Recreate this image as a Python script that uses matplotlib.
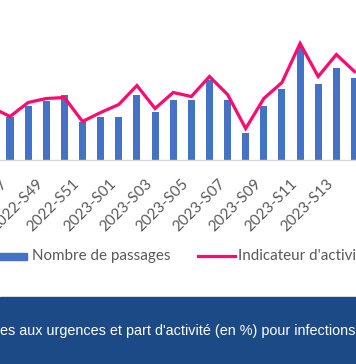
import matplotlib
matplotlib.use('Agg')
import matplotlib.pyplot as plt
from matplotlib.patches import Rectangle
from matplotlib.lines import Line2D
import numpy as np

plt.rcParams['font.family'] = ['Lato', 'DejaVu Sans']

# weeks (S46 falls just outside the visible area)
semaines = ['2022-S46', '2022-S47', '2022-S48', '2022-S49', '2022-S50', '2022-S51',
            '2022-S52', '2023-S01', '2023-S02', '2023-S03', '2023-S04', '2023-S05',
            '2023-S06', '2023-S07', '2023-S08', '2023-S09', '2023-S10', '2023-S11',
            '2023-S12', '2023-S13', '2023-S14']
passages = [500, 430, 535, 590, 650, 380, 430, 430, 650, 480, 600, 600,
            800, 600, 270, 540, 710, 1130, 755, 920, 815]
indicateur = [5.2, 4.3, 5.7, 6.1, 6.2, 3.8, 4.7, 5.5, 7.4, 5.1, 6.7, 6.3,
              8.3, 6.5, 3.1, 6.1, 7.7, 11.6, 8.3, 10.5, 8.8]

W, H = 356, 364
bleu = '#4472C4'
rose = '#FF0A6E'
gris = '#595959'

fig = plt.figure(figsize=(W / 100, H / 100), dpi=100)
base = 159.5
ax = fig.add_axes([0, (H - base) / H, 1, base / H])

x = np.arange(len(semaines)) - 1
step = 18.13
ax.bar(x, passages, width=0.39, color=bleu, zorder=2)
ax.set_xlim(-10 / step, (W - 10) / step)
ax.set_ylim(0, base * 10)

ax2 = ax.twinx()
ax2.plot(x, indicateur, color=rose, lw=2.3, solid_joinstyle='miter', zorder=3)
ax2.set_ylim(0, base / 10)

for a in (ax, ax2):
    for s in ['top', 'left', 'right']:
        a.spines[s].set_visible(False)
    a.set_yticks([])
    a.patch.set_visible(False)
ax2.spines['bottom'].set_visible(False)
ax.spines['bottom'].set_color('#d9d9d9')
ax.spines['bottom'].set_linewidth(1)

ticks = x[1::2]
ax.set_xticks(ticks)
ax.set_xticklabels(semaines[1::2], rotation=45, ha='right', color=gris, fontsize=11)
ax.tick_params(axis='x', length=0, pad=12)

# legend drawn by hand, partly cut by the edges
def px(xp, yp):
    return xp / W, 1 - yp / H

fig.add_artist(Rectangle(px(-10, 260), 37 / W, 7 / H, transform=fig.transFigure,
                         color=bleu, clip_on=False))
fig.text(*px(32, 256), 'Nombre de passages', color=gris, fontsize=10.9, va='center', ha='left')
fig.add_artist(Line2D([198 / W, 235 / W], [1 - 256 / H] * 2, transform=fig.transFigure,
                      color=rose, lw=2.3))
fig.text(*px(238, 256), "Indicateur d'activité", color=gris, fontsize=10.9, va='center', ha='left')

# banner
fig.add_artist(Rectangle((0, 0), 1, (H - 297) / H, transform=fig.transFigure,
                         color='#1B4A86'))
fig.text(*px(0, 331), "es aux urgences et part d'activité (en %) pour infections respiratoires",
         color='white', fontsize=10.4, va='center', ha='left', family=['Liberation Sans'])

fig.savefig('out.png', dpi=100)
